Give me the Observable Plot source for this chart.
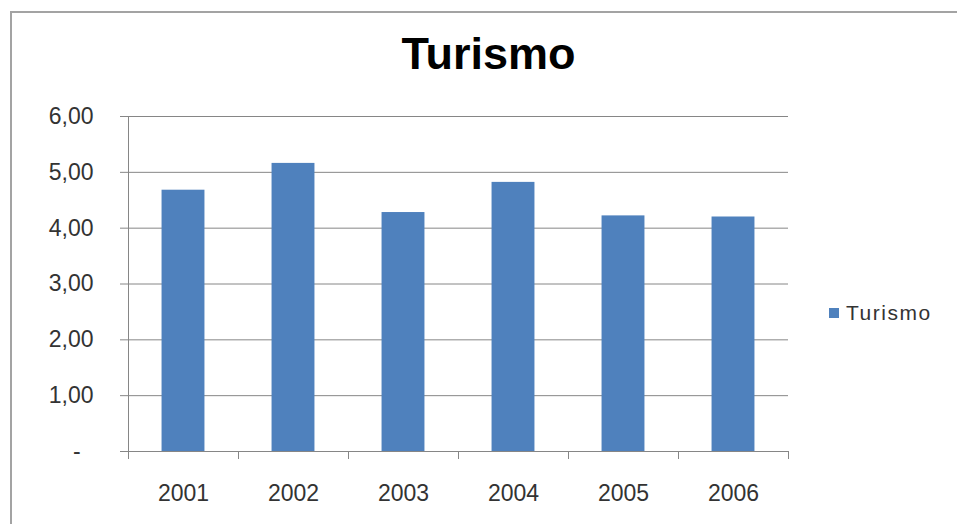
<!DOCTYPE html>
<html>
<head>
<meta charset="utf-8">
<script src="https://cdn.jsdelivr.net/npm/d3@7"></script>
<script src="https://cdn.jsdelivr.net/npm/@observablehq/plot@0.6"></script>
<style>
  html, body { margin: 0; padding: 0; background: #fff; }
  #wrap { position: relative; width: 957px; height: 524px; overflow: hidden; background: #fff; font-family: "Liberation Sans", Arial, sans-serif; }
  #border { position: absolute; left: 10px; top: 11px; right: -10px; bottom: -10px; border-top: 2px solid #a3a3a3; border-left: 2px solid #a3a3a3; }
  #chart { position: absolute; left: 0; top: 0; }
  #title { position: absolute; left: 0; width: 977px; top: 26px; text-align: center; font-size: 45px; font-weight: bold; color: #000; line-height: 56px; }
  #legend { position: absolute; left: 829px; top: 301px; display: flex; align-items: center; font-size: 21px; letter-spacing: 1.5px; color: #333; line-height: 24px; }
  #legend .sw { width: 10px; height: 10px; margin-right: 7px; }
</style>
</head>
<body>
<div id="wrap">
  <div id="border"></div>
  <div id="chart"></div>
  <div id="title"></div>
  <div id="legend"></div>
</div>
<script>
const titleText = "Turismo";
const seriesName = "Turismo";
const years = ["2001", "2002", "2003", "2004", "2005", "2006"];
const values = [4.68, 5.16, 4.28, 4.82, 4.22, 4.20];
const yTicks = [0, 1, 2, 3, 4, 5, 6];
const barColor = "#4f81bd";

const data = years.map((year, i) => ({year, i, value: values[i]}));
const bounds = years.map((_, i) => i).concat([years.length]);
const centers = years.map((_, i) => i + 0.5);
const fmt = v => v === 0 ? "-\u00a0\u00a0" : v.toFixed(2).replace(".", ",");

const chart = Plot.plot({
  width: 957,
  height: 524,
  marginLeft: 128,
  marginRight: 169,
  marginTop: 116,
  marginBottom: 73,
  style: {fontFamily: "'Liberation Sans', Arial, sans-serif", fontSize: "23px", background: "transparent", color: "#333"},
  x: {domain: [0, years.length]},
  y: {domain: [0, 6]},
  marks: [
    Plot.gridY(yTicks, {stroke: "#868686", strokeOpacity: 1}),
    Plot.rectY(data, {x1: d => d.i + 0.305, x2: d => d.i + 0.695, y: "value", fill: barColor}),
    Plot.ruleY([0], {stroke: "#868686"}),
    Plot.ruleX([0], {stroke: "#868686"}),
    Plot.axisY(yTicks, {tickSize: 8, tickPadding: 27, tickFormat: fmt, stroke: "#868686", fill: "#333", label: null}),
    Plot.axisX(bounds, {tickSize: 8, tickFormat: () => "", stroke: "#868686", label: null}),
    Plot.axisX(centers, {tickSize: 0, tickPadding: 33, tickFormat: v => years[Math.floor(v)], fill: "#333", label: null})
  ]
});
document.getElementById("chart").appendChild(chart);
document.getElementById("title").textContent = titleText;
const lg = document.getElementById("legend");
const sw = document.createElement("span");
sw.className = "sw";
sw.style.background = barColor;
const lt = document.createElement("span");
lt.textContent = seriesName;
lg.appendChild(sw);
lg.appendChild(lt);
</script>
</body>
</html>
